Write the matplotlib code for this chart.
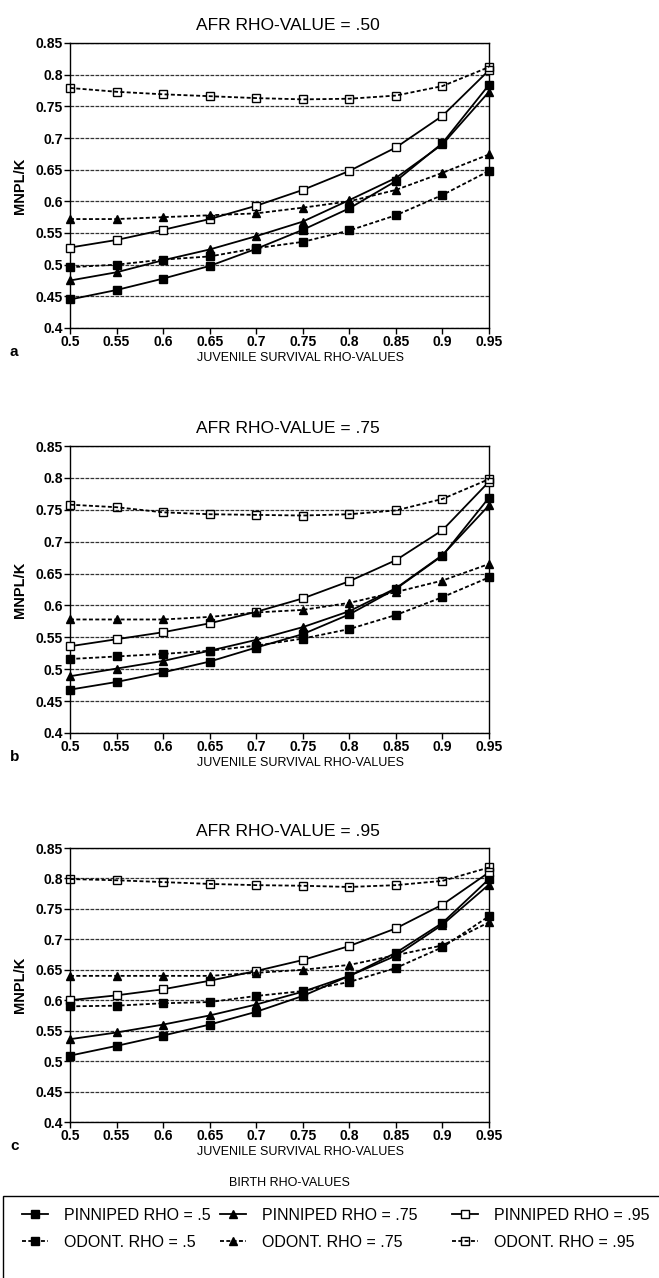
import matplotlib
matplotlib.use("Agg")
import matplotlib.pyplot as plt
from matplotlib.patches import Rectangle
from matplotlib.lines import Line2D

plt.rcParams["font.family"] = ["Liberation Sans", "DejaVu Sans"]

rho = [0.5, 0.55, 0.6, 0.65, 0.7, 0.75, 0.8, 0.85, 0.9, 0.95]
xticklabels = ["0.5", "0.55", "0.6", "0.65", "0.7", "0.75", "0.8", "0.85", "0.9", "0.95"]
yticks = [0.4, 0.45, 0.5, 0.55, 0.6, 0.65, 0.7, 0.75, 0.8, 0.85]
yticklabels = ["0.4", "0.45", "0.5", "0.55", "0.6", "0.65", "0.7", "0.75", "0.8", "0.85"]

# AFR rho = .50
a_pin50 = [0.445, 0.460, 0.478, 0.498, 0.525, 0.555, 0.589, 0.632, 0.692, 0.784]
a_pin75 = [0.475, 0.488, 0.507, 0.524, 0.545, 0.568, 0.602, 0.637, 0.690, 0.773]
a_pin95 = [0.527, 0.539, 0.555, 0.572, 0.593, 0.618, 0.648, 0.685, 0.735, 0.807]
a_odo50 = [0.496, 0.500, 0.508, 0.513, 0.526, 0.536, 0.554, 0.578, 0.610, 0.648]
a_odo75 = [0.572, 0.572, 0.575, 0.578, 0.581, 0.590, 0.600, 0.618, 0.645, 0.674]
a_odo95 = [0.779, 0.773, 0.769, 0.766, 0.763, 0.761, 0.762, 0.767, 0.782, 0.812]

# AFR rho = .75
b_pin50 = [0.468, 0.480, 0.495, 0.512, 0.534, 0.555, 0.586, 0.626, 0.678, 0.769]
b_pin75 = [0.489, 0.501, 0.513, 0.529, 0.546, 0.566, 0.591, 0.627, 0.679, 0.757]
b_pin95 = [0.536, 0.547, 0.558, 0.572, 0.590, 0.611, 0.638, 0.671, 0.718, 0.794]
b_odo50 = [0.516, 0.520, 0.524, 0.529, 0.537, 0.548, 0.563, 0.585, 0.613, 0.644]
b_odo75 = [0.578, 0.578, 0.578, 0.582, 0.589, 0.593, 0.604, 0.621, 0.639, 0.665]
b_odo95 = [0.758, 0.754, 0.746, 0.743, 0.742, 0.741, 0.743, 0.749, 0.767, 0.798]

# AFR rho = .95
c_pin50 = [0.509, 0.525, 0.542, 0.560, 0.581, 0.607, 0.640, 0.678, 0.727, 0.799]
c_pin75 = [0.536, 0.547, 0.560, 0.575, 0.593, 0.614, 0.640, 0.673, 0.724, 0.790]
c_pin95 = [0.600, 0.608, 0.618, 0.632, 0.648, 0.666, 0.689, 0.718, 0.757, 0.810]
c_odo50 = [0.590, 0.591, 0.595, 0.597, 0.607, 0.615, 0.630, 0.653, 0.687, 0.738]
c_odo75 = [0.640, 0.640, 0.640, 0.640, 0.645, 0.650, 0.658, 0.674, 0.690, 0.728]
c_odo95 = [0.799, 0.797, 0.794, 0.791, 0.789, 0.788, 0.786, 0.789, 0.796, 0.818]

titles = ["AFR RHO-VALUE = .50", "AFR RHO-VALUE = .75", "AFR RHO-VALUE = .95"]
letters = ["a", "b", "c"]
labels = ["PINNIPED RHO = .5", "PINNIPED RHO = .75", "PINNIPED RHO = .95",
          "ODONT. RHO = .5", "ODONT. RHO = .75", "ODONT. RHO = .95"]

panels = [
    [a_pin50, a_pin75, a_pin95, a_odo50, a_odo75, a_odo95],
    [b_pin50, b_pin75, b_pin95, b_odo50, b_odo75, b_odo95],
    [c_pin50, c_pin75, c_pin95, c_odo50, c_odo75, c_odo95],
]

dash = (0, (2.2, 1.3))
styles = [
    dict(ls="-", marker="s", mfc="black", ms=5.5),
    dict(ls="-", marker="^", mfc="black", ms=5.5),
    dict(ls="-", marker="s", mfc="white", ms=6),
    dict(ls=dash, marker="s", mfc="black", ms=5.5),
    dict(ls=dash, marker="^", mfc="black", ms=5.5),
    dict(ls=dash, marker="s", mfc="none", ms=6),
]

fig = plt.figure(figsize=(6.59, 12.78), dpi=100)
H = 1278.0
W = 659.0
# (top, bottom) of each plot area in pixels
boxes = [(43, 328), (446, 733), (848, 1122)]
left, right = 70, 489

for i, (top, bot) in enumerate(boxes):
    ax = fig.add_axes([left / W, 1 - bot / H, (right - left) / W, (bot - top) / H])
    for series, st in zip(panels[i], styles):
        ax.plot(rho, series, color="black", lw=1.3, mec="black", mew=1.0,
                ls=st["ls"], marker=st["marker"], mfc=st["mfc"], ms=st["ms"],
                clip_on=False, zorder=3)
    ax.set_xlim(0.5, 0.95)
    ax.set_ylim(0.4, 0.85)
    ax.set_xticks(rho)
    ax.set_xticklabels(xticklabels, fontsize=10, fontweight="bold")
    ax.set_yticks(yticks)
    ax.set_yticklabels(yticklabels, fontsize=10, fontweight="bold")
    ax.yaxis.grid(True, color="#333333", lw=0.9, ls=(0, (3, 1)))
    ax.tick_params(direction="out", length=4, width=1, pad=1)
    for s in ax.spines.values():
        s.set_linewidth(1.0)
    ax.set_ylabel("MNPL/K", fontsize=10.5, labelpad=6, fontweight="bold")
    ax.set_xlabel("JUVENILE SURVIVAL RHO-VALUES", fontsize=9, labelpad=2,
                  x=0.55)
    ax.set_title(titles[i], fontsize=12.5, pad=9, x=0.52)
    fig.text(10 / W, 1 - (bot + 24) / H, letters[i], fontsize=11,
             fontweight="bold", va="center")

fig.text(289 / W, 1 - 1183 / H, "BIRTH RHO-VALUES", fontsize=9,
         ha="center", va="center")
fig.patches.append(Rectangle((3 / W, -0.05), 1.1, 0.05 + 1 - 1196 / H,
                             transform=fig.transFigure, fill=False,
                             edgecolor="black", lw=1.0))

# one legend per column, placed at the column positions of the reference
col_x = [22, 220, 452]
for c in range(3):
    hs = []
    for k in (c, c + 3):
        st = styles[k]
        hs.append(Line2D([], [], color="black", lw=1.3, ls=st["ls"],
                         marker=st["marker"], mfc=st["mfc"], mec="black",
                         ms=st["ms"]))
    leg = fig.legend(hs, [labels[c], labels[c + 3]], frameon=False,
                     loc="upper left", bbox_to_anchor=(col_x[c] / W, 1 - 1208 / H),
                     fontsize=11.5, handlelength=1.6, handletextpad=1.0,
                     labelspacing=0.75, borderaxespad=0, borderpad=0)

fig.savefig("out.png", dpi=100)
